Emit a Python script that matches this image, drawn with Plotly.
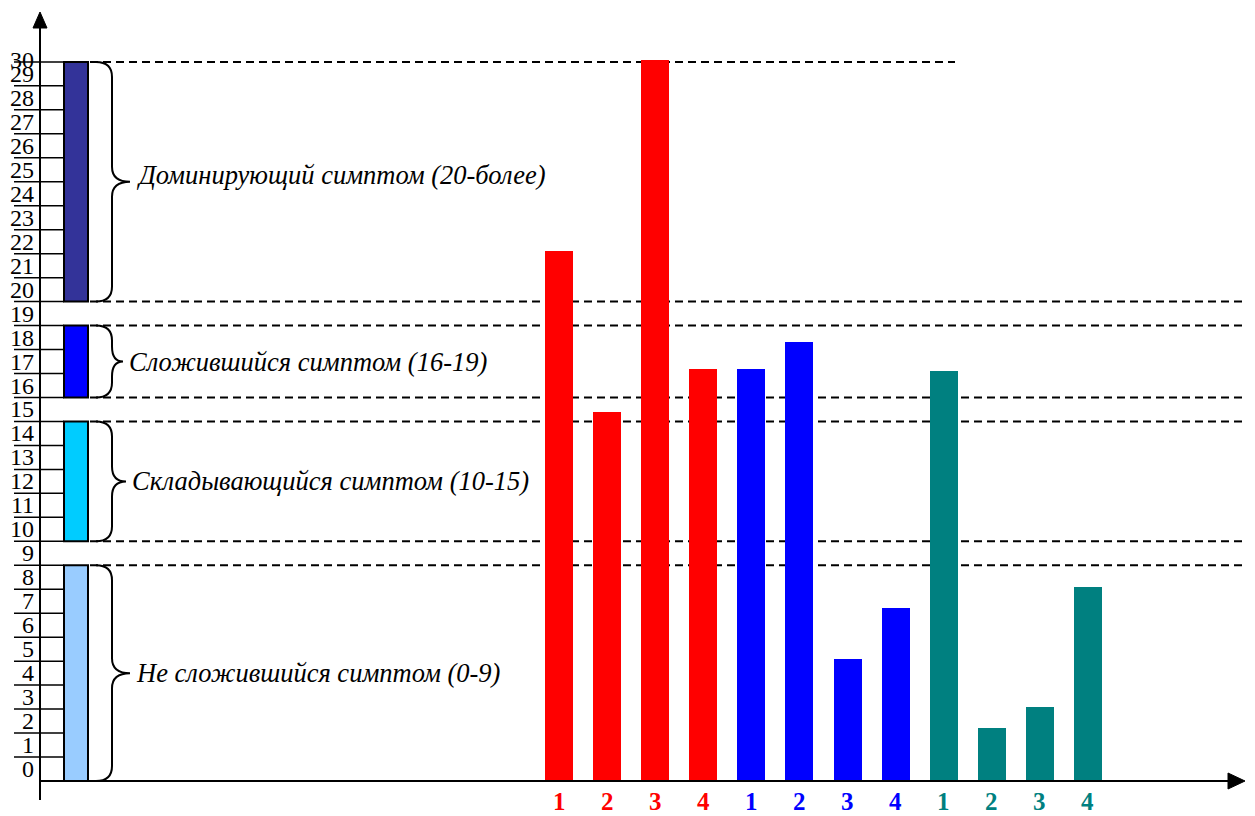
import plotly.graph_objects as go

# ---- data ----
bar_labels = ["1", "2", "3", "4", "1", "2", "3", "4", "1", "2", "3", "4"]
red_values = [22.1, 15.4, 30.1, 17.2]
blue_values = [17.2, 18.3, 5.1, 7.2]
teal_values = [17.1, 2.2, 3.1, 8.1]
group_colors = ["#FF0000", "#0000FF", "#008080"]

tick_values = list(range(0, 31))
band_names = ["Не сложившийся симптом (0-9)", "Складывающийся симптом (10-15)",
              "Сложившийся симптом (16-19)", "Доминирующий симптом (20-более)"]
band_low = [0, 10, 16, 20]
band_high = [9, 15, 19, 30]
band_colors = ["#99CCFF", "#00CCFF", "#0000FF", "#333399"]

W, H = 1255, 816
X0P, STEP = 559.0, 48.09     # pixel of first bar centre, spacing
Y0P, UNIT = 781.0, 23.97     # pixel of value 0, pixels per unit


def X(p):
    return (p - X0P) / STEP


def Y(p):
    return (Y0P - p) / UNIT


FONT = "Liberation Serif"

values = red_values + blue_values + teal_values
colors = [group_colors[0]] * 4 + [group_colors[1]] * 4 + [group_colors[2]] * 4
xs = list(range(len(values)))

fig = go.Figure()
fig.add_trace(go.Bar(x=xs, y=values, marker=dict(color=colors, line=dict(width=0)),
                     width=28 / STEP, hoverinfo="skip"))

shapes = []
annotations = []

# axes
shapes.append(dict(type="line", xref="x", yref="y", x0=X(40), x1=X(1230), y0=0, y1=0,
                   line=dict(color="black", width=2)))
shapes.append(dict(type="path", xref="x", yref="y",
                   path=f"M {X(1228)},{Y(773)} L {X(1245)},{Y(781)} L {X(1228)},{Y(789)} Z",
                   fillcolor="black", line=dict(color="black", width=1)))
shapes.append(dict(type="line", xref="x", yref="y", x0=X(40), x1=X(40), y0=Y(800), y1=Y(26),
                   line=dict(color="black", width=2)))
shapes.append(dict(type="path", xref="x", yref="y",
                   path=f"M {X(33)},{Y(28)} L {X(40)},{Y(12)} L {X(47)},{Y(28)} Z",
                   fillcolor="black", line=dict(color="black", width=1)))

# tick lines and labels
for v in tick_values:
    if v > 0:
        shapes.append(dict(type="line", xref="x", yref="y", x0=X(14), x1=X(64), y0=v, y1=v,
                           line=dict(color="black", width=1.5)))
    annotations.append(dict(x=X(35), y=min(v + 0.5, 30.1), xref="x", yref="y", text=str(v),
                            showarrow=False, xanchor="right", yanchor="middle", borderpad=0,
                            font=dict(family=FONT, size=24, color="black")))

# dashed level lines
for lo, hi in zip(band_low, band_high):
    right = 955 if hi == 30 else 1245
    shapes.append(dict(type="line", xref="x", yref="y", x0=X(90), x1=X(right), y0=hi, y1=hi,
                       line=dict(color="black", width=2, dash="8px,5px"), layer="below"))
    if lo > 0:
        shapes.append(dict(type="line", xref="x", yref="y", x0=X(90), x1=X(1245), y0=lo, y1=lo,
                           line=dict(color="black", width=2, dash="8px,5px"), layer="below"))

# coloured band rectangles, braces and labels
for name, lo, hi, col in zip(band_names, band_low, band_high, band_colors):
    shapes.append(dict(type="rect", xref="x", yref="y", x0=X(64), x1=X(88), y0=lo, y1=hi,
                       fillcolor=col, line=dict(color="black", width=2)))
    ytop, ybot = hi, lo
    ymid = (ytop + ybot) / 2
    r = min(15 / UNIT, (ytop - ybot) / 4)
    tip = 130 if (hi - lo) >= 9 else (123 if (hi - lo) < 4 else 126)
    xa, xm, xt = X(96), X(112), X(tip)
    path = (f"M {xa},{ytop} Q {xm},{ytop} {xm},{ytop - r} L {xm},{ymid + r} "
            f"Q {xm},{ymid} {xt},{ymid} Q {xm},{ymid} {xm},{ymid - r} "
            f"L {xm},{ybot + r} Q {xm},{ybot} {xa},{ybot}")
    shapes.append(dict(type="path", xref="x", yref="y", path=path,
                       line=dict(color="black", width=2)))
    annotations.append(dict(x=X(tip + 4), y=ymid + (0.3 if hi == 30 else 0.0), xref="x", yref="y",
                            text=f"<i>{name}</i>", showarrow=False,
                            xanchor="left", yanchor="middle",
                            font=dict(family=FONT, size=26.5, color="black")))

# labels under bars
for i, (lab, col) in enumerate(zip(bar_labels, colors)):
    annotations.append(dict(x=i, y=Y(801), xref="x", yref="y", text=f"<b>{lab}</b>",
                            showarrow=False, xanchor="center", yanchor="middle", borderpad=0,
                            font=dict(family=FONT, size=25, color=col)))

fig.update_layout(
    width=W, height=H,
    margin=dict(l=0, r=0, t=0, b=0),
    paper_bgcolor="white", plot_bgcolor="white",
    showlegend=False,
    xaxis=dict(range=[X(0), X(W)], visible=False, fixedrange=True),
    yaxis=dict(range=[Y(H), Y(0)], visible=False, fixedrange=True),
    shapes=shapes, annotations=annotations,
    bargap=0,
)

fig.write_html("out.html")
